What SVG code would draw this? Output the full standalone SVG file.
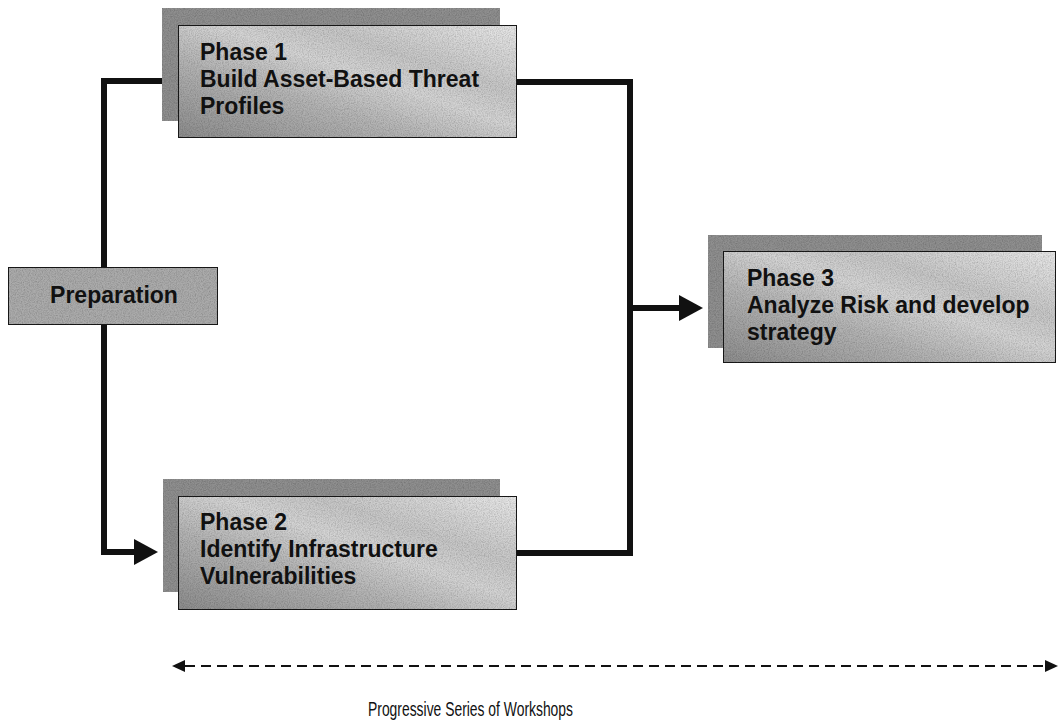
<svg xmlns="http://www.w3.org/2000/svg" width="1059" height="726" viewBox="0 0 1059 726">
  <defs>
    <style>
      .back { fill: #8f8f8f; filter: url(#grain); }
      .front { fill: url(#sheen); stroke: #1a1a1a; stroke-width: 2; }
      .prep { fill: #ababab; stroke: #1a1a1a; stroke-width: 2; }
      .grainy { filter: url(#grain); }
      .label { font-family: "Liberation Sans", Arial, sans-serif; font-weight: bold; font-size: 23px; fill: #111; }
      .wire { fill: none; stroke: #111; stroke-width: 6; stroke-linejoin: miter; stroke-linecap: square; }
      .span { fill: none; stroke: #111; stroke-width: 2; stroke-dasharray: 10 6; }
      .caption { font-family: "Liberation Sans", Arial, sans-serif; font-size: 21px; fill: #111; }
    </style>
    <linearGradient id="sheen" x1="0" y1="1" x2="1" y2="0">
      <stop offset="0" stop-color="#8c8c8c"/>
      <stop offset="0.35" stop-color="#b4b4b4"/>
      <stop offset="0.55" stop-color="#d4d4d4"/>
      <stop offset="0.7" stop-color="#c6c6c6"/>
      <stop offset="1" stop-color="#e8e8e8"/>
    </linearGradient>
    <filter id="grain" x="0" y="0" width="100%" height="100%">
      <feTurbulence type="fractalNoise" baseFrequency="0.85" numOctaves="2" seed="4" result="n"/>
      <feColorMatrix in="n" type="matrix" values="0 0 0 0 0  0 0 0 0 0  0 0 0 0 0  0.7 0 0 0 -0.25" result="dots"/>
      <feComposite in="dots" in2="SourceGraphic" operator="in" result="speck"/>
      <feMerge><feMergeNode in="SourceGraphic"/><feMergeNode in="speck"/></feMerge>
    </filter>
    <marker id="head" markerUnits="userSpaceOnUse" markerWidth="24" markerHeight="26" refX="0" refY="13" orient="auto">
      <path d="M0,0 L24,13 L0,26 z" fill="#111"/>
    </marker>
    <marker id="tick" markerUnits="userSpaceOnUse" markerWidth="13" markerHeight="12" refX="0" refY="6" orient="auto-start-reverse">
      <path d="M0,0 L13,6 L0,12 z" fill="#111"/>
    </marker>
  </defs>

  <rect width="1059" height="726" fill="#ffffff"/>

  <!-- flow lines -->
  <g id="connectors">
    <path class="wire" d="M162,81 H104 V267"/>
    <path class="wire" d="M104,325 V552 H134" marker-end="url(#head)"/>
    <path class="wire" d="M517,82 H630 V553 H517"/>
    <path class="wire" d="M630,308 H679" marker-end="url(#head)"/>
    <path class="span" d="M185,666 H1045" marker-start="url(#tick)" marker-end="url(#tick)"/>
  </g>

  <g id="preparation">
    <rect class="prep grainy" x="8" y="267" width="210" height="58"/>
    <text class="label" x="114" y="303" text-anchor="middle" font-size="24">Preparation</text>
  </g>

  <g id="phase1">
    <rect class="back" x="162" y="8" width="338" height="113"/>
    <rect class="front grainy" x="178" y="25" width="339" height="113"/>
    <text class="label" x="200" y="60">Phase 1</text>
    <text class="label" x="200" y="87">Build Asset-Based Threat</text>
    <text class="label" x="200" y="114">Profiles</text>
  </g>

  <g id="phase2">
    <rect class="back" x="163" y="479" width="337" height="113"/>
    <rect class="front grainy" x="178" y="496" width="339" height="114"/>
    <text class="label" x="200" y="530">Phase 2</text>
    <text class="label" x="200" y="557">Identify Infrastructure</text>
    <text class="label" x="200" y="584">Vulnerabilities</text>
  </g>

  <g id="phase3">
    <rect class="back" x="708" y="235" width="334" height="113"/>
    <rect class="front grainy" x="723" y="251" width="333" height="112"/>
    <text class="label" x="747" y="286">Phase 3</text>
    <text class="label" x="747" y="313">Analyze Risk and develop</text>
    <text class="label" x="747" y="340">strategy</text>
  </g>

  <g id="caption">
    <text class="caption" x="368" y="716" textLength="205" lengthAdjust="spacingAndGlyphs">Progressive Series of Workshops</text>
  </g>
</svg>
